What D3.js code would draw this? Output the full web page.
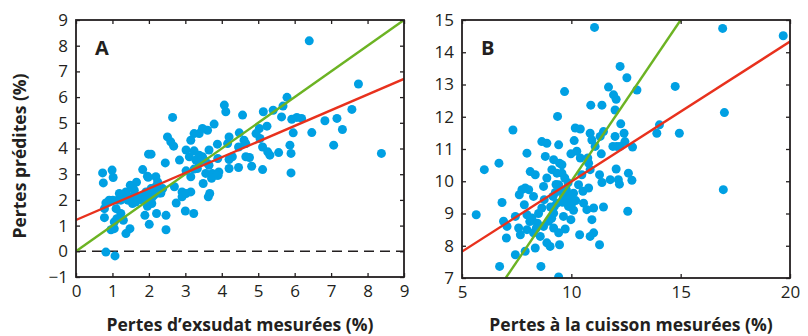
<!DOCTYPE html>
<html>
<head>
<meta charset="utf-8">
<script src="https://cdn.jsdelivr.net/npm/d3@7"></script>
<style>
  body { margin: 0; background: #fff; }
  svg text { font-family: "Open Sans", "Noto Sans", sans-serif; fill: #231f20; }
</style>
</head>
<body>
<div id="chart"></div>
<script>
// panel A: measured exudate losses vs predicted (%)
const exsudatPoints = [
  [6.40,8.19],[7.75,6.51],[8.38,3.81],[7.57,5.52],[7.31,4.74],[7.16,5.17],[6.83,5.08],[7.07,4.13],
  [6.47,4.62],[6.19,5.17],[6.06,5.21],[5.92,5.14],[5.96,4.61],[5.87,4.13],[5.90,3.81],[5.90,3.05],
  [5.79,5.99],[5.68,5.65],[5.64,5.23],[5.56,3.84],[5.41,5.49],[5.14,5.43],[5.24,4.87],[5.12,4.06],
  [5.26,3.87],[5.32,3.74],[5.12,3.18],[5.03,4.78],[4.94,4.58],[5.05,4.39],[4.82,3.31],[4.76,3.65],
  [4.66,3.68],[4.57,5.30],[4.48,4.61],[4.61,4.32],[4.66,4.19],[4.46,4.06],[4.46,3.26],[4.29,3.68],
  [4.20,3.57],[4.20,3.22],[4.20,4.45],[4.11,5.43],[4.07,5.69],[4.16,4.19],[3.88,4.17],[3.79,4.95],
  [3.92,3.09],[3.90,2.96],[3.89,3.61],[3.65,3.35],[3.63,2.12],[3.67,2.25],[3.61,4.71],[3.65,3.94],
  [3.47,4.78],[3.38,4.58],[3.24,4.58],[3.15,4.32],[3.24,3.91],[3.38,3.74],[3.29,3.55],[3.38,3.44],
  [3.49,2.64],[3.56,3.03],[3.33,3.22],[3.15,2.90],[3.24,3.20],[3.02,3.94],[3.11,3.68],[3.02,3.13],
  [2.91,2.31],[2.91,2.12],[3.15,2.31],[3.02,2.25],[3.00,1.57],[3.23,1.47],[2.84,3.55],[2.65,5.21],
  [2.51,4.45],[2.60,4.26],[2.68,4.09],[2.45,3.44],[2.70,2.51],[2.75,1.88],[2.47,1.40],[2.47,0.84],
  [2.33,2.27],[2.38,2.44],[2.19,2.90],[2.24,2.70],[2.06,3.78],[1.99,3.78],[1.96,2.92],[1.83,3.18],
  [2.21,1.47],[2.01,1.05],[1.89,1.40],[1.96,1.75],[2.10,2.12],[2.06,2.44],[1.92,2.31],[1.78,2.12],
  [1.83,1.99],[1.66,2.69],[1.60,2.38],[1.55,2.51],[1.51,2.12],[1.64,1.92],[1.49,2.57],[1.37,2.31],
  [1.28,2.18],[1.19,2.25],[1.23,1.99],[1.14,1.99],[1.10,1.66],[1.23,1.47],[1.30,1.21],[1.48,0.88],
  [1.37,0.69],[1.05,0.88],[0.96,0.84],[1.05,1.14],[1.12,1.27],[0.91,1.99],[0.82,1.88],[0.78,1.66],
  [0.78,1.31],[0.75,2.66],[0.73,3.05],[0.99,3.16],[1.02,2.87],[0.82,-0.03],[1.07,-0.18],[1.01,1.99],
  [1.42,1.99],[1.55,1.86],[1.69,2.12],[1.98,2.88],[2.19,2.51],[2.28,2.27],[2.08,1.86],[1.93,2.05],
  [3.47,3.68],[3.52,3.55],[3.61,3.42],[3.72,2.84],[3.74,3.03],[3.87,2.96],[2.15,2.20],[2.25,2.35]
];
// panel B: measured cooking losses vs predicted (%)
const cuissonPoints = [
  [11.06,14.77],[16.92,14.74],[19.69,14.51],[17.00,12.13],[16.95,9.74],[14.75,12.94],[14.94,11.49],
  [14.03,11.75],[13.91,11.49],[13.00,12.83],[12.58,9.07],[12.23,13.56],[12.54,13.21],[11.70,12.92],
  [11.93,12.68],[12.05,12.54],[12.00,12.21],[10.89,12.36],[11.40,12.36],[9.69,12.78],[9.37,12.01],
  [7.33,11.59],[6.69,10.56],[6.02,10.36],[5.65,8.96],[6.83,9.34],[6.72,7.36],[6.90,8.76],[7.06,8.60],
  [7.03,8.24],[7.44,7.72],[7.44,8.91],[7.59,8.55],[7.67,8.34],[7.97,8.96],[7.97,8.50],[7.89,7.83],
  [7.97,10.87],[7.62,9.58],[7.74,9.74],[7.89,9.79],[8.05,9.74],[7.85,9.27],[8.12,10.30],[8.35,10.20],
  [8.27,9.53],[8.20,8.86],[8.27,8.40],[8.35,7.93],[8.58,8.29],[8.65,11.23],[8.81,10.77],[8.88,11.18],
  [8.61,7.36],[8.65,9.17],[8.76,9.43],[8.73,9.84],[8.88,10.10],[8.73,8.60],[8.96,8.76],[9.03,7.98],
  [8.88,8.09],[9.19,8.55],[9.22,9.22],[9.16,9.53],[9.11,10.36],[9.19,10.67],[9.42,11.13],[9.46,10.56],
  [9.34,10.25],[9.57,10.51],[9.57,10.25],[9.42,9.89],[9.27,9.65],[9.34,9.32],[9.19,9.01],[9.42,8.40],
  [9.46,8.03],[9.42,7.03],[9.64,8.91],[9.72,8.52],[9.77,9.74],[9.80,9.43],[9.64,9.53],[9.95,9.53],
  [9.87,9.22],[10.03,9.32],[9.98,8.81],[10.10,9.63],[10.10,9.10],[9.98,10.85],[10.13,11.26],
  [10.18,11.65],[10.41,11.62],[10.25,10.93],[10.41,10.72],[10.33,9.89],[10.53,9.69],[10.48,10.20],
  [10.56,9.32],[10.71,9.12],[10.79,9.79],[10.38,8.34],[10.79,10.56],[10.86,10.36],[10.75,10.72],
  [10.86,11.49],[10.94,11.28],[11.09,11.08],[11.02,9.17],[10.94,8.81],[11.02,8.40],[10.86,8.29],
  [11.29,8.03],[11.32,11.39],[11.47,11.54],[11.37,10.85],[11.29,10.20],[11.40,9.96],[11.47,9.20],
  [11.78,10.05],[11.90,11.08],[12.00,11.39],[12.08,11.08],[12.05,10.38],[12.15,10.05],[12.20,9.91],
  [12.26,11.78],[12.41,11.49],[12.23,11.08],[12.45,11.23],[12.61,10.25],[12.77,10.03],[12.80,11.06],
  [8.45,8.70],[8.50,9.00],[9.05,9.20],[9.30,9.90],[9.55,9.70],[9.70,10.10],[8.10,8.75],[8.40,8.55],
  [9.10,8.85],[9.60,9.35],[9.85,9.95],[10.20,9.40]
];

// fitted regression lines [intercept, slope] and identity line
const fitA = [1.22, 0.61];
const fitB = [5.65, 0.434];
const identity = [0, 1];

const xTicksA = [0, 1, 2, 3, 4, 5, 6, 7, 8, 9];
const yTicksA = [-1, 0, 1, 2, 3, 4, 5, 6, 7, 8, 9];
const xTicksB = [5, 10, 15, 20];
const yTicksB = [7, 8, 9, 10, 11, 12, 13, 14, 15];

const W = 808, H = 336;
const dotColor = '#00a0e3';
const redColor = '#e8311d';
const greenColor = '#6cb323';

const svg = d3.select('#chart').append('svg')
  .attr('width', W)
  .attr('height', H);

function drawPanel(cfg) {
  const x = d3.scaleLinear().domain(cfg.xDomain).range([cfg.left, cfg.right]);
  const y = d3.scaleLinear().domain(cfg.yDomain).range([cfg.bottom, cfg.top]);
  const g = svg.append('g');

  const clipId = 'clip-' + cfg.name;
  g.append('clipPath').attr('id', clipId)
    .append('rect')
    .attr('x', cfg.left).attr('y', cfg.top)
    .attr('width', cfg.right - cfg.left).attr('height', cfg.bottom - cfg.top);

  const plot = g.append('g').attr('clip-path', `url(#${clipId})`);

  if (cfg.dashZero) {
    plot.append('line')
      .attr('x1', x(cfg.xDomain[0])).attr('x2', x(cfg.xDomain[1]))
      .attr('y1', y(0)).attr('y2', y(0))
      .attr('stroke', '#231f20')
      .attr('stroke-width', 1.5)
      .attr('stroke-dasharray', '10,6');
  }

  // dots
  plot.append('g')
    .selectAll('circle')
    .data(cfg.points)
    .enter()
    .append('circle')
    .attr('cx', d => x(d[0]))
    .attr('cy', d => y(d[1]))
    .attr('r', 4.5)
    .style('fill', dotColor);

  const lineFn = (p, x0, x1) => [[x0, p[0] + p[1] * x0], [x1, p[0] + p[1] * x1]];
  const line = d3.line().x(d => x(d[0])).y(d => y(d[1]));

  plot.append('path')
    .attr('d', line(lineFn(identity, cfg.identityRange[0], cfg.identityRange[1])))
    .style('fill', 'none')
    .style('stroke', greenColor)
    .style('stroke-width', 2.4);

  plot.append('path')
    .attr('d', line(lineFn(cfg.fit, cfg.xDomain[0], cfg.xDomain[1])))
    .style('fill', 'none')
    .style('stroke', redColor)
    .style('stroke-width', 2.4);

  // axes with inward ticks on all four sides
  const tickLen = 4;
  g.append('g')
    .attr('transform', `translate(0,${cfg.bottom})`)
    .call(d3.axisBottom(x).tickValues(cfg.xTicks).tickSize(-tickLen).tickSizeOuter(0).tickPadding(8))
    .call(a => a.select('.domain').remove());
  g.append('g')
    .attr('transform', `translate(0,${cfg.top})`)
    .call(d3.axisTop(x).tickValues(cfg.xTicks).tickSize(-tickLen).tickSizeOuter(0).tickFormat(''))
    .call(a => a.select('.domain').remove());
  g.append('g')
    .attr('transform', `translate(${cfg.left},0)`)
    .call(d3.axisLeft(y).tickValues(cfg.yTicks).tickSize(-tickLen).tickSizeOuter(0).tickPadding(8))
    .call(a => a.select('.domain').remove());
  g.append('g')
    .attr('transform', `translate(${cfg.right},0)`)
    .call(d3.axisRight(y).tickValues(cfg.yTicks).tickSize(-tickLen).tickSizeOuter(0).tickFormat(''))
    .call(a => a.select('.domain').remove());

  g.selectAll('.tick line').attr('stroke', '#231f20').attr('stroke-width', 1.3);
  g.selectAll('.tick text')
    .style('font-size', '17px')
    .style('font-family', '"Open Sans", sans-serif')
    .attr('fill', '#231f20');

  g.append('rect')
    .attr('x', cfg.left).attr('y', cfg.top)
    .attr('width', cfg.right - cfg.left).attr('height', cfg.bottom - cfg.top)
    .attr('fill', 'none')
    .attr('stroke', '#231f20')
    .attr('stroke-width', 1.8);

  g.append('text')
    .attr('x', cfg.left + 19).attr('y', cfg.top + 35)
    .style('font-size', '20px')
    .style('font-weight', 'bold')
    .text(cfg.name);

  g.append('text')
    .attr('x', (cfg.left + cfg.right) / 2 + cfg.titleShift)
    .attr('y', 331)
    .attr('text-anchor', 'middle')
    .style('font-size', '17.5px')
    .style('font-weight', 'bold')
    .text(cfg.xTitle);
}

drawPanel({
  name: 'A', points: exsudatPoints, fit: fitA,
  xDomain: [0, 9], yDomain: [-1, 9], identityRange: [0, 9],
  xTicks: xTicksA, yTicks: yTicksA,
  left: 76, right: 404, top: 20, bottom: 277,
  dashZero: true, titleShift: 0,
  xTitle: 'Pertes d\u2019exsudat mesurées (%)'
});

drawPanel({
  name: 'B', points: cuissonPoints, fit: fitB,
  xDomain: [5, 20], yDomain: [7, 15], identityRange: [7, 15],
  xTicks: xTicksB, yTicks: yTicksB,
  left: 462, right: 790, top: 20, bottom: 278,
  dashZero: false, titleShift: 5,
  xTitle: 'Pertes à la cuisson mesurées (%)'
});

svg.append('text')
  .attr('transform', 'translate(26,156) rotate(-90)')
  .attr('text-anchor', 'middle')
  .style('font-size', '17.5px')
  .style('font-weight', 'bold')
  .text('Pertes prédites (%)');
</script>
</body>
</html>
